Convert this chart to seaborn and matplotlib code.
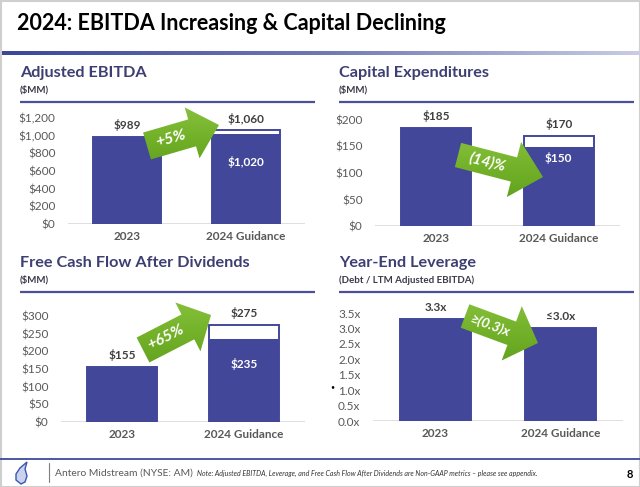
import numpy as np
import pandas as pd
import seaborn as sns
import matplotlib.pyplot as plt
from matplotlib.patches import FancyArrow, Rectangle, Polygon
from matplotlib.colors import LinearSegmentedColormap

# ---- data ----
categories = ["2023", "2024 Guidance"]

ebitda_low = [989, 1020]
ebitda_high = [989, 1060]
capex_low = [185, 150]
capex_high = [185, 170]
fcf_low = [155, 235]
fcf_high = [155, 275]
leverage = [3.3, 3.0]

ebitda_ticks = [0, 200, 400, 600, 800, 1000, 1200]
capex_ticks = [0, 50, 100, 150, 200]
fcf_ticks = [0, 50, 100, 150, 200, 250, 300]
lev_ticks = [0, 0.5, 1.0, 1.5, 2.0, 2.5, 3.0, 3.5]

lev_labels = ["3.3x", "\u22643.0x"]
changes = ["+5%", "(14)%", "+65%", "\u2265(0.3)x"]

# ---- style ----
BLUE = "#42479a"
TITLE_C = "#3d3f72"
GREY = "#595959"
W, H = 640, 487

sns.set_theme(style="white")
plt.rcParams["font.family"] = ["Lato", "DejaVu Sans"]

fig = plt.figure(figsize=(W / 100, H / 100), dpi=100)
fig.patch.set_facecolor("white")


def money(v):
    return f"${v:,.0f}"


def panel(box, ylim, ticks, ticklabels, low, high, top_labels, inner_off):
    l, r, t, b = box
    ax = fig.add_axes([l / W, 1 - b / H, (r - l) / W, (b - t) / H])
    df = pd.DataFrame({"cat": categories, "low": low, "high": high})
    # guidance range drawn as an outlined bar, base value as a filled bar
    sns.barplot(data=df, x="cat", y="high", color=BLUE, fill=False,
                linewidth=1.4, width=0.57, saturation=1, ax=ax)
    sns.barplot(data=df, x="cat", y="low", color=BLUE, width=0.57,
                saturation=1, linewidth=0, ax=ax)
    ax.set_xlim(-0.5, 1.5)
    ax.set_ylim(*ylim)
    ax.set_yticks(ticks, ticklabels)
    ax.set_xlabel("")
    ax.set_ylabel("")
    sns.despine(ax=ax, left=True, bottom=True)
    ax.axhline(0, color="#d9d9d9", lw=1.2, zorder=0)
    ax.tick_params(axis="y", length=0, labelsize=8.5, labelcolor=GREY, pad=9)
    ax.tick_params(axis="x", length=0, labelsize=8.5, labelcolor=GREY, pad=5)
    for lab in ax.get_xticklabels():
        lab.set_fontweight("bold")
    for i in range(2):
        ax.annotate(top_labels[i], (i, high[i]), xytext=(0, 8.5),
                    textcoords="offset points", ha="center", va="center",
                    fontsize=8.5, fontweight="bold", color="#404040")
        if inner_off is not None and high[i] != low[i]:
            ax.annotate(money(low[i]), (i, low[i]), xytext=(0, inner_off),
                        textcoords="offset points", ha="center", va="center",
                        fontsize=8.5, fontweight="bold", color="white")
    return ax


panel((68, 305, 118, 224), (0, 1200), ebitda_ticks,
      [money(v) for v in ebitda_ticks], ebitda_low, ebitda_high,
      [money(v) for v in ebitda_high], -20)
panel((375, 620, 120, 226), (0, 200), capex_ticks,
      [money(v) for v in capex_ticks], capex_low, capex_high,
      [money(v) for v in capex_high], -8.5)
panel((61, 305, 316, 422), (0, 300), fcf_ticks,
      [money(v) for v in fcf_ticks], fcf_low, fcf_high,
      [money(v) for v in fcf_high], -18)
panel((373, 623, 313, 421), (0, 3.5), lev_ticks,
      [f"{v:.1f}x" for v in lev_ticks], leverage, leverage, lev_labels, None)

# ---- overlay in pixel space ----
ov = fig.add_axes([0, 0, 1, 1], zorder=10)
ov.set_facecolor("none")
ov.axis("off")

ov.text(17, 23, "2024: EBITDA Increasing & Capital Declining", fontsize=15.5,
        fontweight="bold", color="black", va="center", ha="left")

# gradient rule under the title
rule = np.linspace(0, 1, 300).reshape(1, -1)
rule_cmap = LinearSegmentedColormap.from_list("rule", ["#3b479b", "#6f78b5", "#c9cce3"])
ov.imshow(rule, cmap=rule_cmap, extent=(2, 640, 55.5, 52), aspect="auto", zorder=2)

titles = [("Adjusted EBITDA", "($MM)", 20, 73), ("Capital Expenditures", "($MM)", 339, 73),
          ("Free Cash Flow After Dividends", "($MM)", 20, 263),
          ("Year-End Leverage", "(Debt / LTM Adjusted EBITDA)", 339, 263)]
for name, sub, x, y in titles:
    ov.text(x, y, name, fontsize=11.7, fontweight="bold", color=TITLE_C, va="center")
    ov.text(x, y + 17, sub, fontsize=7, fontweight="bold", color="#3a3a4a", va="center")
    ov.plot([x, x + 295], [y + 29, y + 29], color="#4b4f9e", lw=1.6,
            solid_capstyle="butt")

# green arrows
green = LinearSegmentedColormap.from_list("g", ["#93c947", "#74b22a", "#5b9b18"])
arrows = [((147, 146), (219, 125), 28, 53, 28),
          ((458, 155), (543, 177), 25, 57, 30),
          ((143, 350), (211, 315), 28, 55, 26),
          ((465, 316), (538, 343), 25, 58, 28)]
sizes = [11.5, 11, 11.5, 10]
for i, ((x0, y0), (x1, y1), body, hw, hl) in enumerate(arrows):
    dx, dy = x1 - x0, y1 - y0
    arr = FancyArrow(x0, y0, dx, dy, width=body, head_width=hw, head_length=hl,
                     length_includes_head=True, lw=0, facecolor="none", zorder=5)
    ov.add_patch(arr)
    grad = np.linspace(0, 1, 100).reshape(-1, 1)
    ymin, ymax = min(y0, y1) - 35, max(y0, y1) + 35
    im = ov.imshow(grad, cmap=green, extent=(x0 - 20, x1 + 5, ymax, ymin),
                   aspect="auto", zorder=5)
    im.set_clip_path(arr)
    ang = -np.degrees(np.arctan2(dy, dx))
    L = np.hypot(dx, dy)
    frac = (L - hl) * 0.52 / L
    ov.text(x0 + dx * frac, y0 + dy * frac, changes[i], rotation=ang,
            rotation_mode="anchor", ha="center", va="center", fontsize=sizes[i],
            fontweight="bold", fontstyle="italic", color="white", zorder=6)

ov.text(332, 387, "\u2022", fontsize=5, color="black", ha="center", va="center")

# footer
ov.plot([0, 640], [459, 459], color="#3f4a9a", lw=1.3)
ov.plot([49, 49], [463, 482], color="#7f7f7f", lw=0.8)
flame = Polygon([(21, 484), (16, 480), (16, 474), (20, 468), (27, 462), (25, 469),
                 (27, 476), (25, 482)], closed=True, facecolor="#c9d3ef",
                edgecolor="#3a56b0", lw=1.0)
ov.add_patch(flame)
ov.text(55, 473, "Antero Midstream (NYSE: AM)", fontsize=7.4, color=GREY, va="center")
ov.text(197, 473, "Note: Adjusted EBITDA, Leverage, and Free Cash Flow After Dividends "
        "are Non-GAAP metrics \u2013 please see appendix.", fontsize=5.0,
        fontstyle="italic", color="#333333", va="center")
ov.text(630, 474, "8", fontsize=8, fontweight="bold", color="black", va="center",
        ha="center")

ov.add_patch(Rectangle((0.5, 0.5), 639, 486, facecolor="none", edgecolor="#cfcfcf", lw=1.5))

ov.set_xlim(0, W)
ov.set_ylim(H, 0)

fig.savefig("out.png", dpi=100)
